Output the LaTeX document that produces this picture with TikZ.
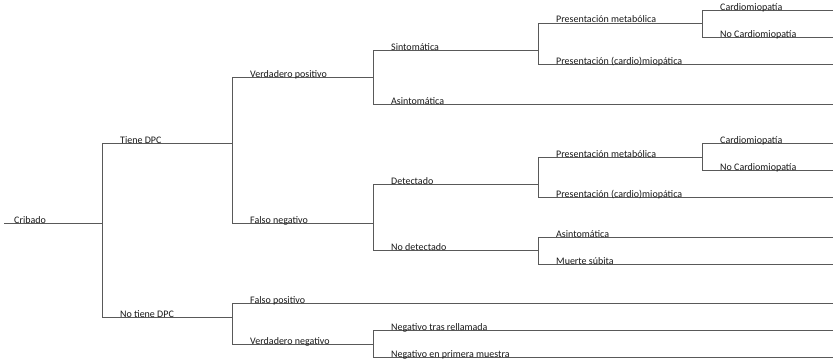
\documentclass[tikz,border=0pt]{standalone}
\usepackage{fontspec}
\setmainfont{Carlito}
\usepackage{tikz}

\begin{document}
\begin{tikzpicture}[
    x=1pt, y=-1pt,
    every node/.style={anchor=base west, inner sep=0pt, yshift=4pt,
      font=\fontsize{10}{12}\selectfont, text=black!90},
    rama/.style={draw=black!65, line width=0.9pt}
  ]
  \useasboundingbox (0,0) rectangle (833,364);
  % final de cada rama
  \coordinate (raiz) at (4,227);
  \coordinate (cribado) at (102,227);
  \coordinate (tiene) at (232,147);
  \coordinate (notiene) at (232,321);
  \coordinate (vp) at (373,81);
  \coordinate (fn) at (373,227);
  \coordinate (sinto) at (538,54);
  \coordinate (asinto) at (833,108);
  \coordinate (pmeta) at (702,27);
  \coordinate (pcardio) at (833,68);
  \coordinate (cardio) at (833,14);
  \coordinate (nocardio) at (833,41);
  \coordinate (detect) at (538,188);
  \coordinate (nodetect) at (538,254);
  \coordinate (pmetb) at (702,161);
  \coordinate (pcardiob) at (833,201);
  \coordinate (cardiob) at (833,147);
  \coordinate (nocardiob) at (833,174);
  \coordinate (asintob) at (833,241);
  \coordinate (muerte) at (833,268);
  \coordinate (fp) at (833,307);
  \coordinate (vn) at (373,348);
  \coordinate (negtras) at (833,334);
  \coordinate (negprim) at (833,361);

  % ramas
  \draw[rama] (raiz) -- (cribado);
  \draw[rama] (cribado) |- (tiene);
  \draw[rama] (cribado) |- (notiene);
  \draw[rama] (tiene) |- (vp);
  \draw[rama] (tiene) |- (fn);
  \draw[rama] (vp) |- (sinto);
  \draw[rama] (vp) |- (asinto);
  \draw[rama] (sinto) |- (pmeta);
  \draw[rama] (sinto) |- (pcardio);
  \draw[rama] (pmeta) |- (cardio);
  \draw[rama] (pmeta) |- (nocardio);
  \draw[rama] (fn) |- (detect);
  \draw[rama] (fn) |- (nodetect);
  \draw[rama] (detect) |- (pmetb);
  \draw[rama] (detect) |- (pcardiob);
  \draw[rama] (pmetb) |- (cardiob);
  \draw[rama] (pmetb) |- (nocardiob);
  \draw[rama] (nodetect) |- (asintob);
  \draw[rama] (nodetect) |- (muerte);
  \draw[rama] (notiene) |- (fp);
  \draw[rama] (notiene) |- (vn);
  \draw[rama] (vn) |- (negtras);
  \draw[rama] (vn) |- (negprim);

  % textos
  \node (t-cribado) at (14,227) {Cribado};
  \node (t-tiene) at (120,147) {Tiene DPC};
  \node (t-notiene) at (120,321) {No tiene DPC};
  \node (t-vp) at (250,81) {Verdadero positivo};
  \node (t-fn) at (250,227) {Falso negativo};
  \node (t-sinto) at (391,54) {Sintomática};
  \node (t-asinto) at (391,108) {Asintomática};
  \node (t-pmeta) at (556,27) {Presentación metabólica};
  \node (t-pcardio) at (556,68) {Presentación (cardio)miopática};
  \node (t-cardio) at (720,14) {Cardiomiopatía};
  \node (t-nocardio) at (720,41) {No Cardiomiopatía};
  \node (t-detect) at (391,188) {Detectado};
  \node (t-nodetect) at (391,254) {No detectado};
  \node (t-pmetb) at (556,161) {Presentación metabólica};
  \node (t-pcardiob) at (556,201) {Presentación (cardio)miopática};
  \node (t-cardiob) at (720,147) {Cardiomiopatía};
  \node (t-nocardiob) at (720,174) {No Cardiomiopatía};
  \node (t-asintob) at (556,241) {Asintomática};
  \node (t-muerte) at (556,268) {Muerte súbita};
  \node (t-fp) at (250,307) {Falso positivo};
  \node (t-vn) at (250,348) {Verdadero negativo};
  \node (t-negtras) at (391,334) {Negativo tras rellamada};
  \node (t-negprim) at (391,361) {Negativo en primera muestra};
\end{tikzpicture}
\end{document}
